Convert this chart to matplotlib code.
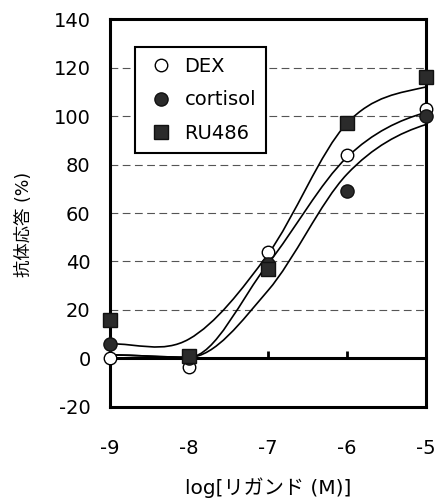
import numpy as np
import matplotlib.pyplot as plt
from matplotlib.path import Path
from matplotlib.patches import PathPatch

plt.rcParams['font.family'] = ['DejaVu Sans', 'Noto Sans CJK JP']
plt.rcParams['axes.unicode_minus'] = False

# ligand concentration (log M) and antibody response (%)
log_conc = [-9, -8, -7, -6, -5]
dex = [0, -3.5, 44, 84, 103]
cortisol = [6, 0, 39, 69, 100]
ru486 = [16, 1, 37, 97, 116]

# fitted response at each concentration, joined by smoothed lines
fit_upper = [6, 8, 43, 97, 112]
fit_middle = [1.5, 0.5, 39, 83, 101.5]
fit_lower = [1.5, 0.5, 28, 76, 96.5]

y_ticks = [-20, 0, 20, 40, 60, 80, 100, 120, 140]
grid_levels = [20, 40, 60, 80, 100, 120]


# catmull-rom slopes, flattened where the curve changes direction
def node_slopes(x, y):
    d = np.diff(y) / np.diff(x)
    m = np.zeros(len(x))
    for i in range(1, len(x) - 1):
        if d[i - 1] * d[i] > 0:
            m[i] = (y[i + 1] - y[i - 1]) / (x[i + 1] - x[i - 1])
    m[0] = d[0] / 2
    m[-1] = d[-1] / 2
    return m


# smoothed line through the points as cubic bezier segments
def smooth_path(xs, ys):
    x = np.asarray(xs, float)
    y = np.asarray(ys, float)
    m = node_slopes(x, y)
    verts = [(x[0], y[0])]
    codes = [Path.MOVETO]
    for i in range(len(x) - 1):
        dx = (x[i + 1] - x[i]) / 3
        verts += [(x[i] + dx, y[i] + m[i] * dx),
                  (x[i + 1] - dx, y[i + 1] - m[i + 1] * dx),
                  (x[i + 1], y[i + 1])]
        codes += [Path.CURVE4] * 3
    return Path(verts, codes)


fig = plt.figure(figsize=(4.4, 5.03), dpi=100)
ax = fig.add_axes([0.25, 0.191, 0.718, 0.771])

for lvl in grid_levels:
    ax.axhline(lvl, color='#555555', lw=0.8, dashes=(7, 4), zorder=0)

for fit in (fit_upper, fit_middle, fit_lower):
    ax.add_patch(PathPatch(smooth_path(log_conc, fit), facecolor='none',
                           edgecolor='black', lw=1.2, zorder=2))

ax.plot(log_conc, dex, 'o', ms=9, mfc='white', mec='black', mew=1.0,
        label='DEX', clip_on=False, zorder=3)
ax.plot(log_conc, cortisol, 'o', ms=9.5, mfc='#2b2b2b', mec='#111111', mew=1.0,
        label='cortisol', clip_on=False, zorder=4)
ax.plot(log_conc, ru486, 's', ms=10.5, mfc='#2b2b2b', mec='#111111', mew=1.0,
        label='RU486', clip_on=False, zorder=5)

ax.set_xlim(-9, -5)
ax.set_ylim(-20, 140)
ax.set_xticks(log_conc)
ax.set_xticklabels([str(v) for v in log_conc])
ax.set_yticks(y_ticks)
ax.tick_params(axis='both', length=0, labelsize=14)
ax.tick_params(axis='x', pad=23)
ax.tick_params(axis='y', pad=14)

for sp in ax.spines.values():
    sp.set_linewidth(2.2)

# axis line at zero response with upward tick marks
zero_axis = ax.secondary_xaxis(20 / 160)
zero_axis.set_xticks(log_conc)
zero_axis.tick_params(direction='in', length=5, width=2, labelbottom=False)
zero_axis.spines['bottom'].set_linewidth(2.2)

ax.set_xlabel('log[リガンド (M)]', fontsize=14.5, labelpad=14)
ax.set_ylabel('抗体応答 (%)', fontsize=12.5)
ax.yaxis.set_label_coords(-0.245, 0.47)

leg = ax.legend(loc='upper left', bbox_to_anchor=(0.079, 0.928), borderaxespad=0,
                fontsize=14, frameon=True, fancybox=False, framealpha=1,
                handletextpad=0.4, borderpad=0.5, labelspacing=0.75,
                handlelength=1.65)
leg.get_frame().set_edgecolor('black')
leg.get_frame().set_linewidth(1.5)

fig.savefig('out.png', dpi=100)
